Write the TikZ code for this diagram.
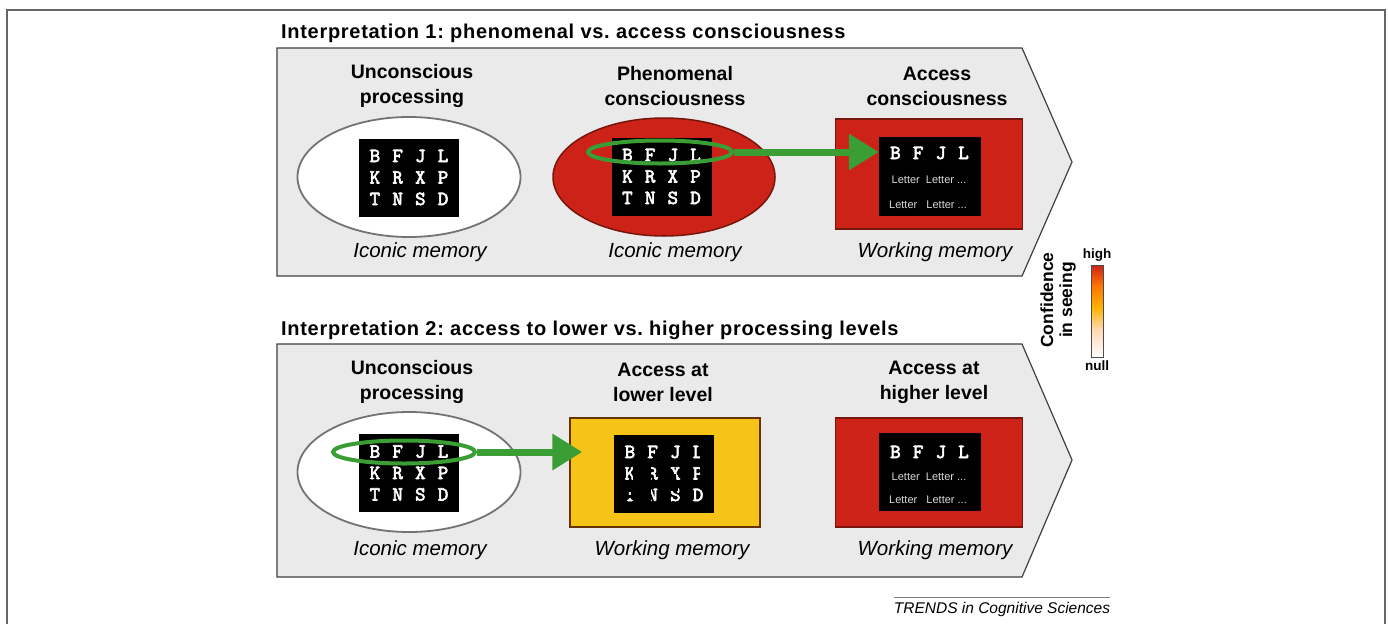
\documentclass[tikz,border=0pt]{standalone}
\usepackage{fontspec}
\setmainfont{Liberation Sans}
\newfontfamily\titlefont[LetterSpace=3.5]{Liberation Sans}
\newfontfamily\gridfont[FakeBold=3]{lmmono10-regular.otf}
\usetikzlibrary{shapes.geometric,arrows.meta,positioning}
\frenchspacing

\definecolor{panelgray}{RGB}{234,234,234}
\definecolor{memred}{RGB}{204,34,24}
\definecolor{memdark}{RGB}{120,22,14}
\definecolor{memyellow}{RGB}{246,196,22}
\definecolor{ringgreen}{RGB}{58,158,52}

\pgfdeclareverticalshading{confbar}{100bp}{color(0bp)=(white); color(25bp)=(white);
  color(40bp)=(white!70!orange); color(52bp)=(orange!60!yellow); color(64bp)=(orange!90!red);
  color(75bp)=(memred); color(100bp)=(memred)}

% one row of four letters
\newcommand\lrow[4]{\makebox[22.7pt]{#1}\makebox[22.7pt]{#2}\makebox[22.7pt]{#3}\makebox[22.7pt]{#4}}

\begin{document}
\begin{tikzpicture}[x=1pt,y=-1pt,
  panel/.style={fill=panelgray,draw=black!75,line width=1.2pt},
  title/.style={anchor=west,inner sep=0pt,font=\titlefont\bfseries\fontsize{20}{24}\selectfont},
  head/.style={align=center,font=\bfseries\fontsize{19.5}{25}\selectfont},
  caption/.style={font=\itshape\fontsize{20.5}{24}\selectfont},
  grid/.style={fill=black,text=white,align=center,inner sep=0pt,
    minimum width=100pt,minimum height=78pt,font=\gridfont\fontsize{20}{21.5}\selectfont},
  lett/.style={text=white,inner sep=0pt,font=\gridfont\fontsize{20}{21.5}\selectfont},
  word/.style={text=white!85!black,inner sep=0pt,font=\fontsize{11}{13}\selectfont},
  iconic/.style={ellipse,fill=white,draw=black!55,line width=1.8pt,inner sep=0pt,
    minimum width=223pt,minimum height=120pt},
  wmbox/.style={fill=memred,draw=memdark,line width=1.5pt,inner sep=0pt,
    minimum width=187pt,minimum height=110pt},
  ring/.style={ellipse,draw=ringgreen,line width=4pt,inner sep=0pt},
  garrow/.style={ringgreen,line width=7pt,-{Triangle[length=30pt,width=35pt]}}]

\useasboundingbox (0,0) rectangle (1388,624);

% Frame
\draw[black!60,line width=2pt] (7,624) -- (7,10) -- (1385,10) -- (1385,624);

% Interpretation 1
\node[title] (t1) at (281,33) {Interpretation 1: phenomenal vs. access consciousness};
\draw[panel] (277,48) -- (1022,48) -- (1072,162) -- (1022,276) -- (277,276) -- cycle;

\node[head] (h11) at (412,86) {Unconscious\\processing};
\node[head] (h12) at (675,86) {Phenomenal\\consciousness};
\node[head] (h13) at (937,86) {Access\\consciousness};

\node[iconic] (e11) at (409,177) {};
\node[grid] (g11) at (409,177.5) {\lrow BFJL\\\lrow KRXP\\\lrow TNSD};

\node[ellipse,fill=memred,draw=memdark,line width=1.5pt,inner sep=0pt,
  minimum width=222pt,minimum height=118pt] (e12) at (664,177) {};
\node[grid] (g12) at (661.5,176.5) {\lrow BFJL\\\lrow KRXP\\\lrow TNSD};
\node[ring,minimum width=144pt,minimum height=23pt] (ring1) at (660,152) {};

\node[wmbox] (w13) at (929,174) {};
\node[grid,minimum width=102pt,minimum height=79pt] (g13) at (930,176.5) {};
\node[lett] (l13) at (929.5,153) {\lrow BFJL};
\node[word] (a13) at (929,180) {Letter\ \ Letter ...};
\node[word] (b13) at (928,205) {Letter\ \ \ Letter ...};

\draw[garrow] (ring1.east) -- (ring1.east -| g13.west);

\node[caption] (c11) at (420,252) {Iconic memory};
\node[caption] (c12) at (675,252) {Iconic memory};
\node[caption] (c13) at (935,252) {Working memory};

% Confidence scale
\node[draw=black!70,line width=0.8pt,shading=confbar,minimum width=12pt,
  minimum height=92pt,inner sep=0pt] (bar) at (1097,311) {};
\node[above=3pt of bar,inner sep=0pt,font=\bfseries\fontsize{13.5}{16}\selectfont] (high) {high};
\node[below=3pt of bar,inner sep=0pt,font=\bfseries\fontsize{13.5}{16}\selectfont] (null) {null};
\node[rotate=90,align=center,inner sep=0pt,font=\bfseries\fontsize{17.5}{19}\selectfont]
  (conf) at (1058,300) {Confidence\\in seeing};

% Interpretation 2
\node[title] (t2) at (281,330) {Interpretation 2: access to lower vs. higher processing levels};
\draw[panel] (277,344) -- (1022,344) -- (1072,460) -- (1022,577) -- (277,577) -- cycle;

\node[head] (h21) at (412,382) {Unconscious\\processing};
\node[head] (h22) at (663,382) {Access at\\lower level};
\node[head] (h23) at (934,382) {Access at\\higher level};

\node[iconic] (e21) at (409,472) {};
\node[grid] (g21) at (409,473) {\lrow BFJL\\\lrow KRXP\\\lrow TNSD};
\node[ring,minimum width=142pt,minimum height=23pt] (ring2) at (404,452) {};

\node[fill=memyellow,draw=black!60!orange,line width=1.5pt,inner sep=0pt,
  minimum width=190pt,minimum height=109pt] (low) at (665,472.5) {};
\node[grid] (g22) at (664,473.5) {\lrow BFJL\\\lrow KRXP\\\lrow TNSD};
% faded letters
\fill[black] (700,454) rectangle (706,459);
\fill[black] (632.5,466) rectangle (638,481);
\fill[black] (645,466) rectangle (651,481);
\fill[black] (668,474) rectangle (675.5,481);
\fill[black] (700,466) rectangle (706,474);
\fill[black] (622,487) rectangle (639,491.5);
\fill[black] (628,495) rectangle (633,498);
\fill[black] (644,487) rectangle (650.5,502);
\fill[black] (670,487) rectangle (678,490.5);

\coordinate (tip2) at ([xshift=13pt]low.west |- ring2.east);
\draw[garrow] (ring2.east) -- (tip2);

\node[wmbox,minimum height=109pt] (w23) at (929,472.5) {};
\node[grid,minimum width=102pt,minimum height=78pt] (g23) at (930,472) {};
\node[lett] (l23) at (929.5,452) {\lrow BFJL};
\node[word] (a23) at (929,477) {Letter\ \ Letter ...};
\node[word] (b23) at (928,500) {Letter\ \ \ Letter ...};

\node[caption] (c21) at (420,550) {Iconic memory};
\node[caption] (c22) at (672,550) {Working memory};
\node[caption] (c23) at (935,550) {Working memory};

% Footer
\node[inner sep=0pt,font=\itshape\fontsize{15.5}{18}\selectfont] (trends) at (1002,609) {TRENDS in Cognitive Sciences};
\draw[black!50,line width=1pt] ([yshift=4pt]trends.north west) -- ([yshift=4pt]trends.north east);
\end{tikzpicture}
\end{document}
